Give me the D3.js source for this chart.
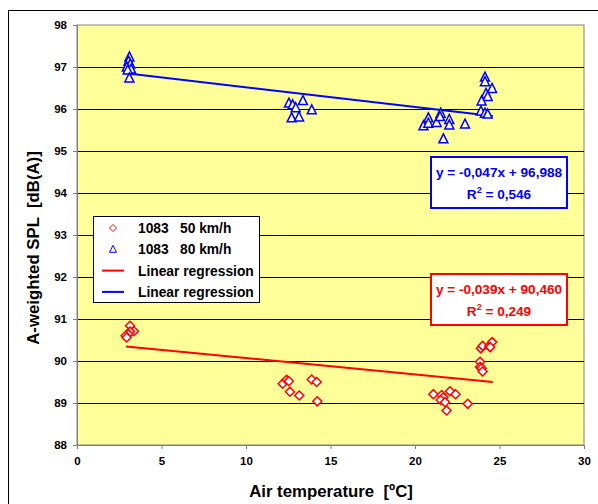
<!DOCTYPE html>
<html>
<head>
<meta charset="utf-8">
<script src="https://cdn.jsdelivr.net/npm/d3@7"></script>
<style>
  body { margin: 0; background: #fff; }
  text { font-family: 'Liberation Sans', Arial, sans-serif; font-weight: bold; }
</style>
</head>
<body>
<svg id="chart"></svg>
<script>
const xTicks = [0, 5, 10, 15, 20, 25, 30];
const yTicks = [88, 89, 90, 91, 92, 93, 94, 95, 96, 97, 98];

// 1083 at 50 km/h: [temperature, SPL]
const speed50 = [
  [3.14, 90.84], [3.37, 90.71], [3.14, 90.7], [3.04, 90.64], [2.88, 90.6], [2.94, 90.56],
  [12.17, 89.46], [12.4, 89.55], [12.54, 89.52], [12.6, 89.27], [13.15, 89.18],
  [13.89, 89.56], [14.18, 89.5], [14.22, 89.04],
  [21.09, 89.21], [21.58, 89.19], [21.68, 89.13], [21.52, 89.07], [21.78, 89.02],
  [22.07, 89.28], [22.4, 89.21], [21.87, 88.82], [23.12, 88.98],
  [23.85, 89.98], [23.85, 89.86], [23.94, 89.83], [24.0, 89.75],
  [23.9, 90.3], [24.0, 90.36], [24.4, 90.36], [24.57, 90.45], [24.45, 90.33],
];

// 1083 at 80 km/h
const speed80 = [
  [3.1, 97.24], [3.05, 97.14], [3.15, 97.07], [2.95, 97.0], [3.2, 96.95], [3.0, 96.93], [3.1, 96.74],
  [12.54, 96.14], [12.76, 96.1], [12.94, 96.03], [13.37, 96.2], [13.89, 95.98],
  [12.7, 95.79], [13.14, 95.81],
  [20.5, 95.6], [20.79, 95.79], [20.79, 95.66], [21.28, 95.68], [21.52, 95.9],
  [21.48, 95.82], [22.03, 95.75], [22.03, 95.62], [21.68, 95.29], [22.96, 95.64],
  [24.14, 96.76], [24.14, 96.65], [24.56, 96.49], [24.2, 96.37], [24.3, 96.3],
  [23.94, 96.19], [23.9, 95.95], [24.14, 95.9], [24.3, 95.88],
];

const fit50 = { slope: -0.039, intercept: 90.46, r2: '0,249', label: 'y = -0,039x + 90,460' };
const fit80 = { slope: -0.047, intercept: 96.988, r2: '0,546', label: 'y = -0,047x + 96,988' };
const fitRange = [2.9, 24.6];

const legendItems = [
  { kind: 'diamond', color: '#ff0000', name: '1083', speed: '50 km/h' },
  { kind: 'triangle', color: '#0000ff', name: '1083', speed: '80 km/h' },
  { kind: 'line', color: '#ff0000', name: 'Linear regression' },
  { kind: 'line', color: '#0000ff', name: 'Linear regression' },
];

const WIDTH = 598, HEIGHT = 504;
const PLOT = { left: 77, top: 25, right: 584, bottom: 445 };

const svg = d3.select('#chart').attr('width', WIDTH).attr('height', HEIGHT);

// outer chart frame
svg.append('rect').attr('x', 8.5).attr('y', 10.5).attr('width', 620).attr('height', 520)
  .attr('fill', 'none').attr('stroke', '#000').attr('stroke-width', 1);

const x = d3.scaleLinear([0, 30], [PLOT.left, PLOT.right]);
const y = d3.scaleLinear([88, 98], [PLOT.bottom, PLOT.top]);

svg.append('rect')
  .attr('x', PLOT.left).attr('y', PLOT.top)
  .attr('width', PLOT.right - PLOT.left).attr('height', PLOT.bottom - PLOT.top)
  .attr('fill', '#ffff99').attr('stroke', '#808080');

// gridlines
svg.append('g').selectAll('line').data(yTicks.slice(1, -1)).join('line')
  .attr('x1', PLOT.left).attr('x2', PLOT.right)
  .attr('y1', (d) => Math.round(y(d)) + 0.5).attr('y2', (d) => Math.round(y(d)) + 0.5)
  .attr('stroke', '#000').attr('stroke-width', 1);

const yAxis = svg.append('g').attr('transform', `translate(${PLOT.left},0)`)
  .call(d3.axisLeft(y).tickValues(yTicks).tickFormat(d3.format('d')).tickSize(4).tickPadding(6));
const xAxis = svg.append('g').attr('transform', `translate(0,${PLOT.bottom})`)
  .call(d3.axisBottom(x).tickValues(xTicks).tickFormat(d3.format('d')).tickSize(4).tickPadding(8));

[xAxis, yAxis].forEach((a) => {
  a.select('.domain').attr('stroke', '#808080');
  a.selectAll('.tick line').attr('stroke', '#808080');
  a.selectAll('text').attr('font-size', 11.5).attr('fill', '#000')
    .style('font-family', "'Liberation Sans', Arial, sans-serif").style('font-weight', 'bold');
});

// regression lines
const drawFit = (fit, color) => {
  svg.append('line')
    .attr('x1', x(fitRange[0])).attr('y1', y(fit.slope * fitRange[0] + fit.intercept))
    .attr('x2', x(fitRange[1])).attr('y2', y(fit.slope * fitRange[1] + fit.intercept))
    .attr('stroke', color).attr('stroke-width', 2);
};
drawFit(fit50, '#ff0000');
drawFit(fit80, '#0000ff');

const diamond = 'M0,-4.5L4.5,0L0,4.5L-4.5,0Z';
const triangle = 'M0,-5L4.5,4L-4.5,4Z';

svg.append('g').selectAll('path').data(speed50).join('path')
  .attr('d', diamond)
  .attr('transform', (d) => `translate(${x(d[0])},${y(d[1])})`)
  .attr('fill', '#fff').attr('stroke', '#ff0000').attr('stroke-width', 1.5);

svg.append('g').selectAll('path').data(speed80).join('path')
  .attr('d', triangle)
  .attr('transform', (d) => `translate(${x(d[0])},${y(d[1])})`)
  .attr('fill', '#fff').attr('stroke', '#0000ff').attr('stroke-width', 1.5);

// equation boxes
const drawEquation = (fit, color, top) => {
  const g = svg.append('g');
  g.append('rect').attr('x', 431).attr('y', top).attr('width', 136).attr('height', 51)
    .attr('fill', '#fff').attr('stroke', color).attr('stroke-width', 2);
  g.append('text').attr('x', 499).attr('y', top + 20).attr('text-anchor', 'middle')
    .attr('font-size', 13.6).attr('fill', color).text(fit.label);
  const t = g.append('text').attr('x', 499).attr('y', top + 42).attr('text-anchor', 'middle')
    .attr('font-size', 13.6).attr('fill', color);
  t.append('tspan').text('R');
  t.append('tspan').attr('dy', -6).attr('font-size', 9).text('2');
  t.append('tspan').attr('dy', 6).text(` = ${fit.r2}`);
};
drawEquation(fit80, '#0000ff', 157);
drawEquation(fit50, '#ff0000', 274);

// legend
const legend = svg.append('g');
legend.append('rect').attr('x', 93.5).attr('y', 216.5).attr('width', 166).attr('height', 86)
  .attr('fill', '#fff').attr('stroke', '#000');
legendItems.forEach((item, i) => {
  const cy = 228 + i * 21.3;
  if (item.kind === 'line') {
    legend.append('line').attr('x1', 102).attr('x2', 124).attr('y1', cy).attr('y2', cy)
      .attr('stroke', item.color).attr('stroke-width', 2);
  } else {
    legend.append('path').attr('d', item.kind === 'diamond' ? 'M0,-3.5L3.5,0L0,3.5L-3.5,0Z' : 'M0,-4L3.5,3L-3.5,3Z')
      .attr('transform', `translate(113,${cy})`)
      .attr('fill', '#fff').attr('stroke', item.color).attr('stroke-width', 1);
  }
  legend.append('text').attr('x', 138).attr('y', cy + 5).attr('font-size', 13.8).text(item.name);
  if (item.speed) {
    legend.append('text').attr('x', 180).attr('y', cy + 5).attr('font-size', 13.8).text(item.speed);
  }
});

// axis titles
svg.append('text').attr('x', 331).attr('y', 497).attr('text-anchor', 'middle')
  .attr('font-size', 16.8).attr('xml:space', 'preserve').text('Air temperature  [ºC]');
svg.append('text').attr('transform', 'translate(39,248) rotate(-90)')
  .attr('text-anchor', 'middle').attr('font-size', 16.8).attr('xml:space', 'preserve')
  .text('A-weighted SPL  [dB(A)]');
</script>
</body>
</html>
